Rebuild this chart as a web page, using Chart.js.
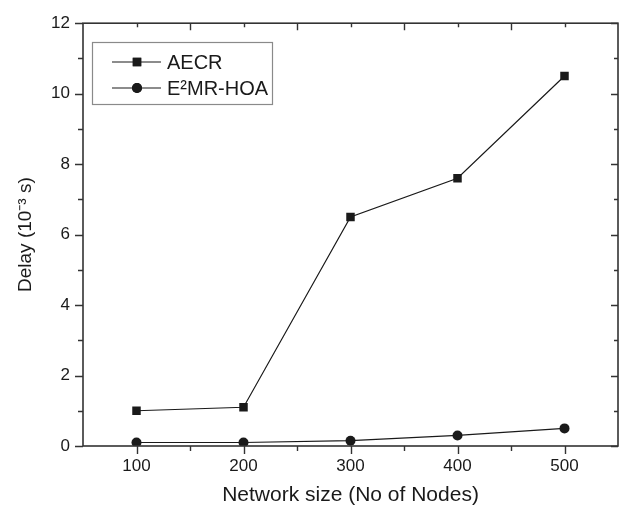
<!DOCTYPE html>
<html>
<head>
<meta charset="utf-8">
<script src="https://cdn.jsdelivr.net/npm/chart.js@4/dist/chart.umd.min.js"></script>
<style>
html,body{margin:0;padding:0;background:#fff;}
#wrap{width:624px;height:512px;}
</style>
</head>
<body>
<div id="wrap"><canvas id="c" width="624" height="512"></canvas></div>
<script>
const categories = [100, 200, 300, 400, 500];
const aecrValues = [1.0, 1.1, 6.5, 7.6, 10.5];
const e2mrValues = [0.1, 0.1, 0.15, 0.3, 0.5];
const xTickLabels = [100, 200, 300, 400, 500];
const xMinorTicks = [150, 250, 350, 450];
const yTickLabels = [0, 2, 4, 6, 8, 10, 12];
const yMinorTicks = [1, 3, 5, 7, 9, 11];
const seriesNames = ['AECR', 'E\u00B2MR-HOA'];

const FONT = "'Liberation Sans', Arial, sans-serif";
const INK = '#1a1a1a';

const frameTicks = {
  id: 'frameTicks',
  afterDatasetsDraw(chart) {
    const ctx = chart.ctx;
    const {left, right, top, bottom} = chart.chartArea;
    const xs = chart.scales.x, ys = chart.scales.y;
    ctx.save();
    ctx.strokeStyle = '#333';
    ctx.lineWidth = 1.6;
    ctx.strokeRect(left, top, right - left, bottom - top);
    ctx.lineWidth = 1.4;
    ctx.beginPath();
    const seg = (x1, y1, x2, y2) => { ctx.moveTo(x1, y1); ctx.lineTo(x2, y2); };
    xTickLabels.forEach(v => {
      const p = Math.round(xs.getPixelForValue(v)) + 0.5;
      seg(p, bottom, p, bottom + 8);
      seg(p, top, p, top + 4);
    });
    xMinorTicks.forEach(v => {
      const p = Math.round(xs.getPixelForValue(v)) + 0.5;
      seg(p, bottom, p, bottom + 5);
      seg(p, top, p, top + 7);
    });
    yTickLabels.forEach(v => {
      const p = Math.round(ys.getPixelForValue(v)) + 0.5;
      seg(left - 8, p, left, p);
      seg(right - 7, p, right, p);
    });
    yMinorTicks.forEach(v => {
      const p = Math.round(ys.getPixelForValue(v)) + 0.5;
      seg(left - 5, p, left, p);
      seg(right - 4, p, right, p);
    });
    ctx.stroke();
    ctx.restore();
  },
  afterDraw(chart) {
    const ctx = chart.ctx;
    ctx.save();
    const bx = 92, by = 42, bw = 180, bh = 62;
    ctx.strokeStyle = '#8a8a8a';
    ctx.lineWidth = 1.2;
    ctx.strokeRect(bx + 0.5, by + 0.5, bw, bh);
    chart.data.datasets.forEach((ds, i) => {
      const cy = 62 + i * 26;
      ctx.strokeStyle = INK;
      ctx.lineWidth = 1.2;
      ctx.beginPath();
      ctx.moveTo(112, cy); ctx.lineTo(161, cy);
      ctx.stroke();
      ctx.fillStyle = INK;
      Chart.helpers.drawPoint(ctx, {pointStyle: ds.pointStyle, radius: ds.pointRadius, borderWidth: 0}, 137, cy);
      ctx.fill();
      ctx.fillStyle = INK;
      ctx.font = '20px ' + FONT;
      ctx.textBaseline = 'middle';
      ctx.textAlign = 'left';
      ctx.fillText(ds.label, 167, cy + 1);
    });
    ctx.restore();
  }
};

new Chart(document.getElementById('c'), {
  type: 'line',
  data: {
    datasets: [
      {
        label: seriesNames[0],
        data: categories.map((x, i) => ({x, y: aecrValues[i]})),
        borderColor: INK, backgroundColor: INK,
        borderWidth: 1.2, pointStyle: 'rect', pointRadius: 6,
        pointBorderWidth: 0, pointHoverRadius: 6, tension: 0
      },
      {
        label: seriesNames[1],
        data: categories.map((x, i) => ({x, y: e2mrValues[i]})),
        borderColor: INK, backgroundColor: INK,
        borderWidth: 1.2, pointStyle: 'circle', pointRadius: 5,
        pointBorderWidth: 0, pointHoverRadius: 5, tension: 0
      }
    ]
  },
  options: {
    responsive: false,
    animation: false,
    events: [],
    layout: {padding: {left: 0, right: 6, top: 12, bottom: 0}},
    plugins: {legend: {display: false}, tooltip: {enabled: false}},
    scales: {
      x: {
        type: 'linear', min: 50, max: 550,
        afterBuildTicks: s => { s.ticks = xTickLabels.map(v => ({value: v})); },
        afterFit: s => { s.height = 66; },
        grid: {display: false, drawTicks: false},
        border: {display: false},
        ticks: {color: INK, font: {family: FONT, size: 17}, padding: 10, maxRotation: 0, autoSkip: false},
        title: {display: true, text: 'Network size (No of Nodes)', color: INK,
                font: {family: FONT, size: 21}, padding: {top: 0, bottom: 4}}
      },
      y: {
        type: 'linear', min: 0, max: 12,
        afterBuildTicks: s => { s.ticks = yTickLabels.map(v => ({value: v})); },
        afterFit: s => { s.width = 83; },
        grid: {display: false, drawTicks: false},
        border: {display: false},
        ticks: {color: INK, font: {family: FONT, size: 17}, padding: 13},
        title: {display: true, text: 'Delay (10\u207B\u00B3 s)', color: INK,
                font: {family: FONT, size: 19}, padding: {top: 14, bottom: 0}}
      }
    }
  },
  plugins: [frameTicks]
});
</script>
</body>
</html>
